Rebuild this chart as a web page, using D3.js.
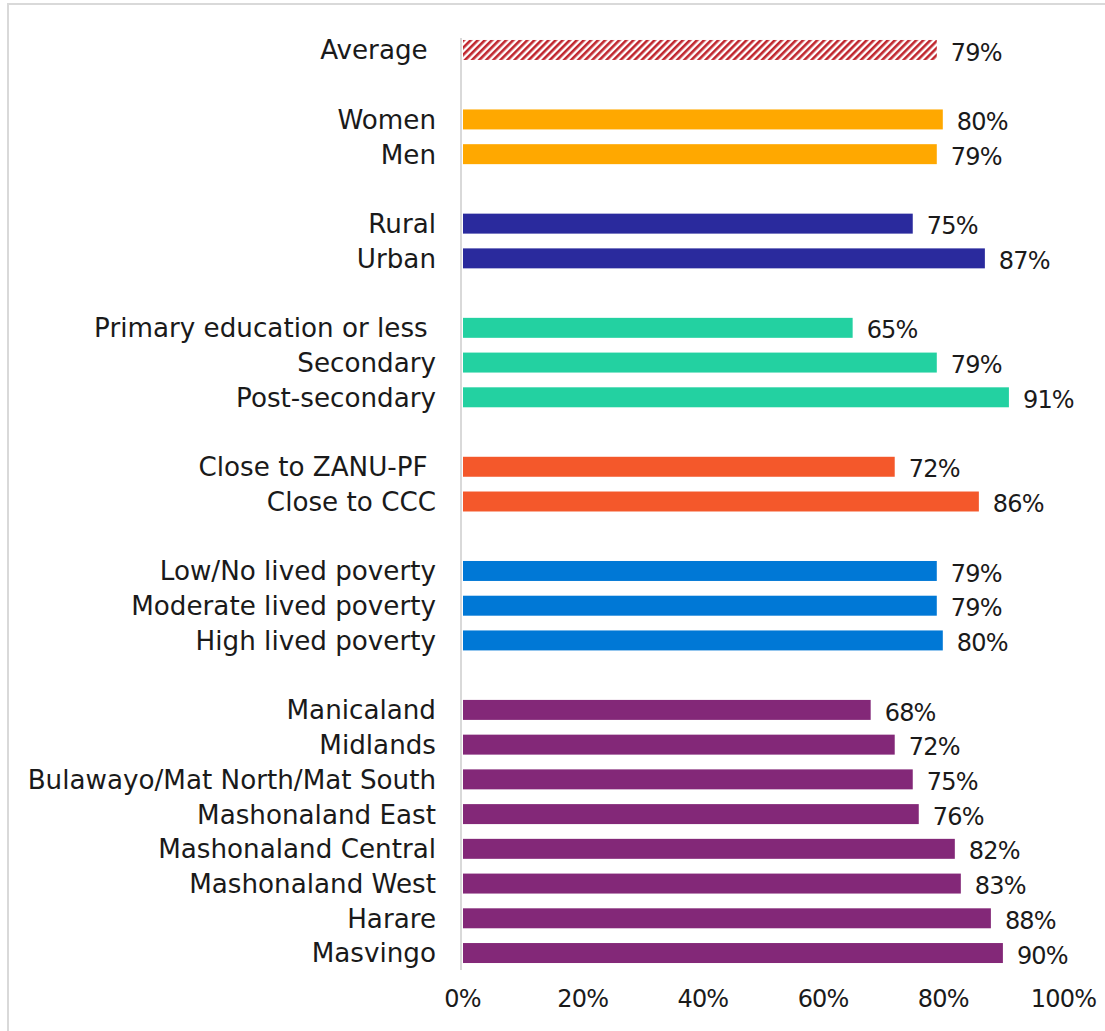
<!DOCTYPE html>
<html>
<head>
<meta charset="utf-8">
<script src="https://cdn.jsdelivr.net/npm/d3@7"></script>
<style>
  html, body { margin: 0; padding: 0; background: #fff; }
  svg text { font-family: "DejaVu Sans", sans-serif; fill: #1a1a1a; white-space: pre; }
</style>
</head>
<body>
<svg id="chart" width="1105" height="1031"></svg>
<script>
// Share of respondents, by group (percent)
const categories = [
  "Average ",
  "Women", "Men",
  "Rural", "Urban",
  "Primary education or less ", "Secondary", "Post-secondary",
  "Close to ZANU-PF ", "Close to CCC",
  "Low/No lived poverty", "Moderate lived poverty", "High lived poverty",
  "Manicaland", "Midlands", "Bulawayo/Mat North/Mat South", "Mashonaland East",
  "Mashonaland Central", "Mashonaland West", "Harare", "Masvingo"
];
const values = [79, 80, 79, 75, 87, 65, 79, 91, 72, 86, 79, 79, 80, 68, 72, 75, 76, 82, 83, 88, 90];
const groups = [0, 1, 1, 2, 2, 3, 3, 3, 4, 4, 5, 5, 5, 6, 6, 6, 6, 6, 6, 6, 6];
const groupColors = ["url(#hatch)", "#FFA800", "#2A2A9D", "#23D1A1", "#F4582B", "#0078D6", "#832878"];
const tickValues = [0, 0.2, 0.4, 0.6, 0.8, 1.0];

// Row keys: a blank row separates consecutive groups
const rows = [];
categories.forEach((c, i) => {
  if (i > 0 && groups[i] !== groups[i - 1]) rows.push("__gap" + i);
  rows.push(c);
});

const svg = d3.select("#chart");

// Frame
svg.append("rect")
  .attr("x", 8).attr("y", 4).attr("width", 1200).attr("height", 1200)
  .attr("fill", "none").attr("stroke", "#d9d9d9").attr("stroke-width", 2);

// Diagonal hatch for the average bar
const defs = svg.append("defs");
const pat = defs.append("pattern")
  .attr("id", "hatch").attr("patternUnits", "userSpaceOnUse")
  .attr("width", 5).attr("height", 5)
  .attr("patternTransform", "rotate(45)");
pat.append("rect").attr("width", 5).attr("height", 5).attr("fill", "#ffffff");
pat.append("rect").attr("width", 2.6).attr("height", 5).attr("fill", "#C0262E");

const x = d3.scaleLinear().domain([0, 1]).range([462, 1063]);
const y = d3.scaleBand().domain(rows).range([32.6, 970.4]).paddingInner(0.425).paddingOuter(0.2125);

// Zero line
svg.append("line")
  .attr("x1", 461).attr("x2", 461)
  .attr("y1", 38).attr("y2", 970)
  .attr("stroke", "#d9d9d9").attr("stroke-width", 2);

const data = categories.map((c, i) => ({ label: c, value: values[i] / 100, group: groups[i] }));

// Bars
svg.append("g").selectAll("rect")
  .data(data).join("rect")
  .attr("x", x(0) + 1)
  .attr("y", d => y(d.label))
  .attr("width", d => x(d.value) - x(0) - 1)
  .attr("height", y.bandwidth())
  .attr("fill", d => groupColors[d.group]);

// Category labels
svg.append("g").selectAll("text")
  .data(data).join("text")
  .attr("x", 436)
  .attr("y", d => y(d.label) + y.bandwidth() / 2)
  .attr("dy", "0.36em")
  .attr("text-anchor", "end")
  .attr("font-size", 26.2)
  .text(d => d.label);

// Value labels
svg.append("g").selectAll("text")
  .data(data).join("text")
  .attr("x", d => x(d.value) + 14)
  .attr("y", d => y(d.label) + y.bandwidth() / 2 + 2)
  .attr("dy", "0.36em")
  .attr("font-size", 24)
  .attr("letter-spacing", -0.8)
  .text(d => d3.format(".0%")(d.value));

// Bottom axis (labels only)
const axis = svg.append("g")
  .attr("transform", "translate(0,990)")
  .call(d3.axisBottom(x).tickValues(tickValues).tickFormat(d3.format(".0%")).tickSize(0).tickPadding(0));
axis.select(".domain").remove();
axis.selectAll("text")
  .attr("font-size", 24)
  .attr("letter-spacing", -0.8)
  .attr("dy", "0.71em")
  .style("font-family", "DejaVu Sans, sans-serif")
  .attr("fill", "#1a1a1a");
</script>
</body>
</html>
